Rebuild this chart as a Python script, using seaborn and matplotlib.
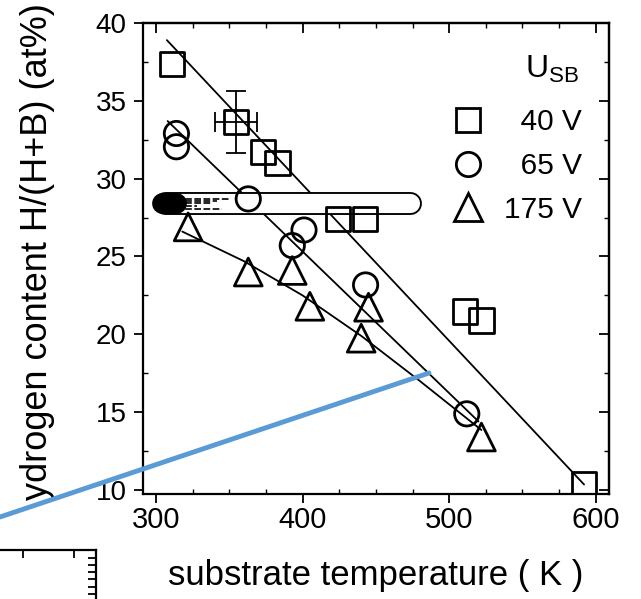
import numpy as np
import pandas as pd
import matplotlib.pyplot as plt
import seaborn as sns
from matplotlib.lines import Line2D
from matplotlib.ticker import MultipleLocator

sns.set_style("ticks")
plt.rcParams["font.family"] = ["Liberation Sans", "DejaVu Sans"]
plt.rcParams["mathtext.fontset"] = "custom"
plt.rcParams["mathtext.rm"] = "Liberation Sans"
for key in ["text.color", "axes.labelcolor", "axes.edgecolor",
            "xtick.color", "ytick.color"]:
    plt.rcParams[key] = "black"

# ------------------------------------------------------------
# data (substrate temperature K, H content at%)
# ------------------------------------------------------------
sq_T = [311, 354.5, 373, 383, 424, 442.5, 511, 522, 592]
sq_H = [37.35, 33.66, 31.7, 31.0, 27.4, 27.4, 21.46, 20.88, 10.35]

ci_T = [314, 314, 363, 393, 401, 443, 512]
ci_H = [32.9, 32.05, 28.7, 25.7, 26.7, 23.17, 14.89]

tr_T = [322, 363, 393, 405, 440, 445, 522]
tr_H = [26.9, 24.0, 24.1, 21.8, 19.75, 21.74, 13.4]

# error bar on one 40 V point
err_T = [354.5]
err_H = [33.66]
err_dT = [14.5]
err_dH = [2.0]

# fit lines
fit40_T = [307.5, 592]
fit40_H = [38.9, 10.35]
fit65_T = [308, 520]
fit65_H = [33.7, 14.4]
fit175_T = [318, 360, 400, 440, 480, 522]
fit175_H = [26.6, 24.7, 22.5, 19.9, 17.0, 13.85]

labels = ["\u200740 V", "\u200765 V", "175 V"]

# ------------------------------------------------------------
fig = plt.figure(figsize=(6.41, 5.99), dpi=100)
W, H = 641, 599
ax = fig.add_axes([142.7 / W, 1 - 494 / H, (609 - 142.7) / W, (494 - 23) / H])

for ft, fh in [(fit40_T, fit40_H), (fit65_T, fit65_H), (fit175_T, fit175_H)]:
    sns.lineplot(x=ft, y=fh, sort=False, estimator=None, color="black",
                 lw=1.3, ax=ax, zorder=2)

# rounded highlight bar
ax.plot([306, 473.5], [28.42, 28.42], color="black", lw=16.5,
        solid_capstyle="round", zorder=2.5)
ax.plot([306, 473.5], [28.42, 28.42], color="white", lw=13.8,
        solid_capstyle="round", zorder=2.6)
ax.plot([304, 314], [28.42, 28.42], color="black", lw=15,
        solid_capstyle="round", zorder=2.7)
for dy, x1 in [(-0.35, 345), (0.0, 338), (0.3, 350), (-0.15, 328), (0.15, 342)]:
    ax.plot([314, x1], [28.42 + dy, 28.42 + dy], color="black", lw=1.2,
            ls=(0, (4, 1.5)), zorder=2.7)

msize = {"s": 17.5, "o": 17.5, "^": 20}
for T, Hc, m in [(sq_T, sq_H, "s"), (ci_T, ci_H, "o"), (tr_T, tr_H, "^")]:
    sns.scatterplot(x=T, y=Hc, marker=m, s=msize[m] ** 2, color="black",
                    facecolor="none", edgecolor="black", linewidth=2.0,
                    ax=ax, zorder=3)

ax.errorbar(err_T, err_H, xerr=err_dT, yerr=err_dH, fmt="none",
            ecolor="black", elinewidth=1.3, capsize=7, capthick=1.3, zorder=3)

ax.set_xlim(291, 609)
ax.set_ylim(9.74, 40)
ax.xaxis.set_major_locator(MultipleLocator(100))
ax.xaxis.set_minor_locator(MultipleLocator(25))
ax.yaxis.set_major_locator(MultipleLocator(5))
ax.yaxis.set_minor_locator(MultipleLocator(2.5))
ax.tick_params(which="major", direction="out", length=6.5, width=1.3,
               top=False, right=False)
ax.tick_params(which="minor", direction="in", length=3.5, width=1.0,
               top=False, right=False)
ax.tick_params(axis="x", labelsize=21, pad=2.5)
ax.tick_params(axis="y", labelsize=20, pad=5)
for s in ax.spines.values():
    s.set_linewidth(1.6)
    s.set_visible(True)

top = ax.secondary_xaxis("top")
top.xaxis.set_major_locator(MultipleLocator(100))
top.xaxis.set_minor_locator(MultipleLocator(25))
top.tick_params(which="major", direction="in", length=7.5, width=1.3, labeltop=False)
top.tick_params(which="minor", direction="in", length=3.5, width=1.0)
right = ax.secondary_yaxis("right")
right.yaxis.set_major_locator(MultipleLocator(5))
right.yaxis.set_minor_locator(MultipleLocator(2.5))
right.tick_params(which="major", direction="in", length=7, width=1.3, labelright=False)
right.tick_params(which="minor", direction="in", length=3.5, width=1.0)
top.spines["top"].set_linewidth(1.6)
right.spines["right"].set_linewidth(1.6)

ax.set_xlabel("")
ax.set_ylabel("")
fig.text(376 / W, 1 - 575 / H, "substrate temperature ( K )", fontsize=25,
         ha="center", va="center")
fig.text(38 / W, 1 - 252 / H, "ydrogen content H/(H+B) (at%)", fontsize=26,
         rotation=90, ha="center", va="center")

# legend: title as separate text, entries below
fig.text(579 / W, 1 - 78 / H, "U$_{\\rm SB}$", fontsize=23,
         ha="right", va="baseline")
handles = [Line2D([], [], ls="none", marker=m, markersize=msize[m],
                  markerfacecolor="none", markeredgecolor="black",
                  markeredgewidth=2.0) for m in ["s", "o", "^"]]
leg = ax.legend(handles, labels, loc="upper right",
                bbox_to_anchor=(0.942, 0.8185), frameon=False, fontsize=21.5,
                handlelength=1.0, handletextpad=0.7, labelspacing=0.52,
                borderpad=0, borderaxespad=0)

# blue overlay line
fig.add_artist(Line2D([0, 429 / W], [1 - 517 / H, 1 - 373 / H],
                      transform=fig.transFigure, color="#5b9bd5", lw=3.5,
                      zorder=10))

# cropped neighbouring panel in the bottom-left corner
ax2 = fig.add_axes([-0.1, -0.1, 0.1 + 96 / W, 0.1 + 49 / H])
ax2.set_xlim(-0.1 * W, 96)
ax2.set_ylim(-0.1 * H, 49)
ax2.spines["left"].set_visible(False)
ax2.spines["bottom"].set_visible(False)
ax2.spines["top"].set_linewidth(1.6)
ax2.spines["right"].set_linewidth(1.6)
ax2.xaxis.tick_top()
ax2.yaxis.tick_right()
ax2.set_xticks([23, 74])
ax2.set_yticks([41, 34, 27, 20, 12, 5])
ax2.tick_params(direction="in", length=6, width=1.3, labeltop=False,
                labelright=False)
ax2.patch.set_alpha(0)

fig.savefig("out.png", dpi=100)
